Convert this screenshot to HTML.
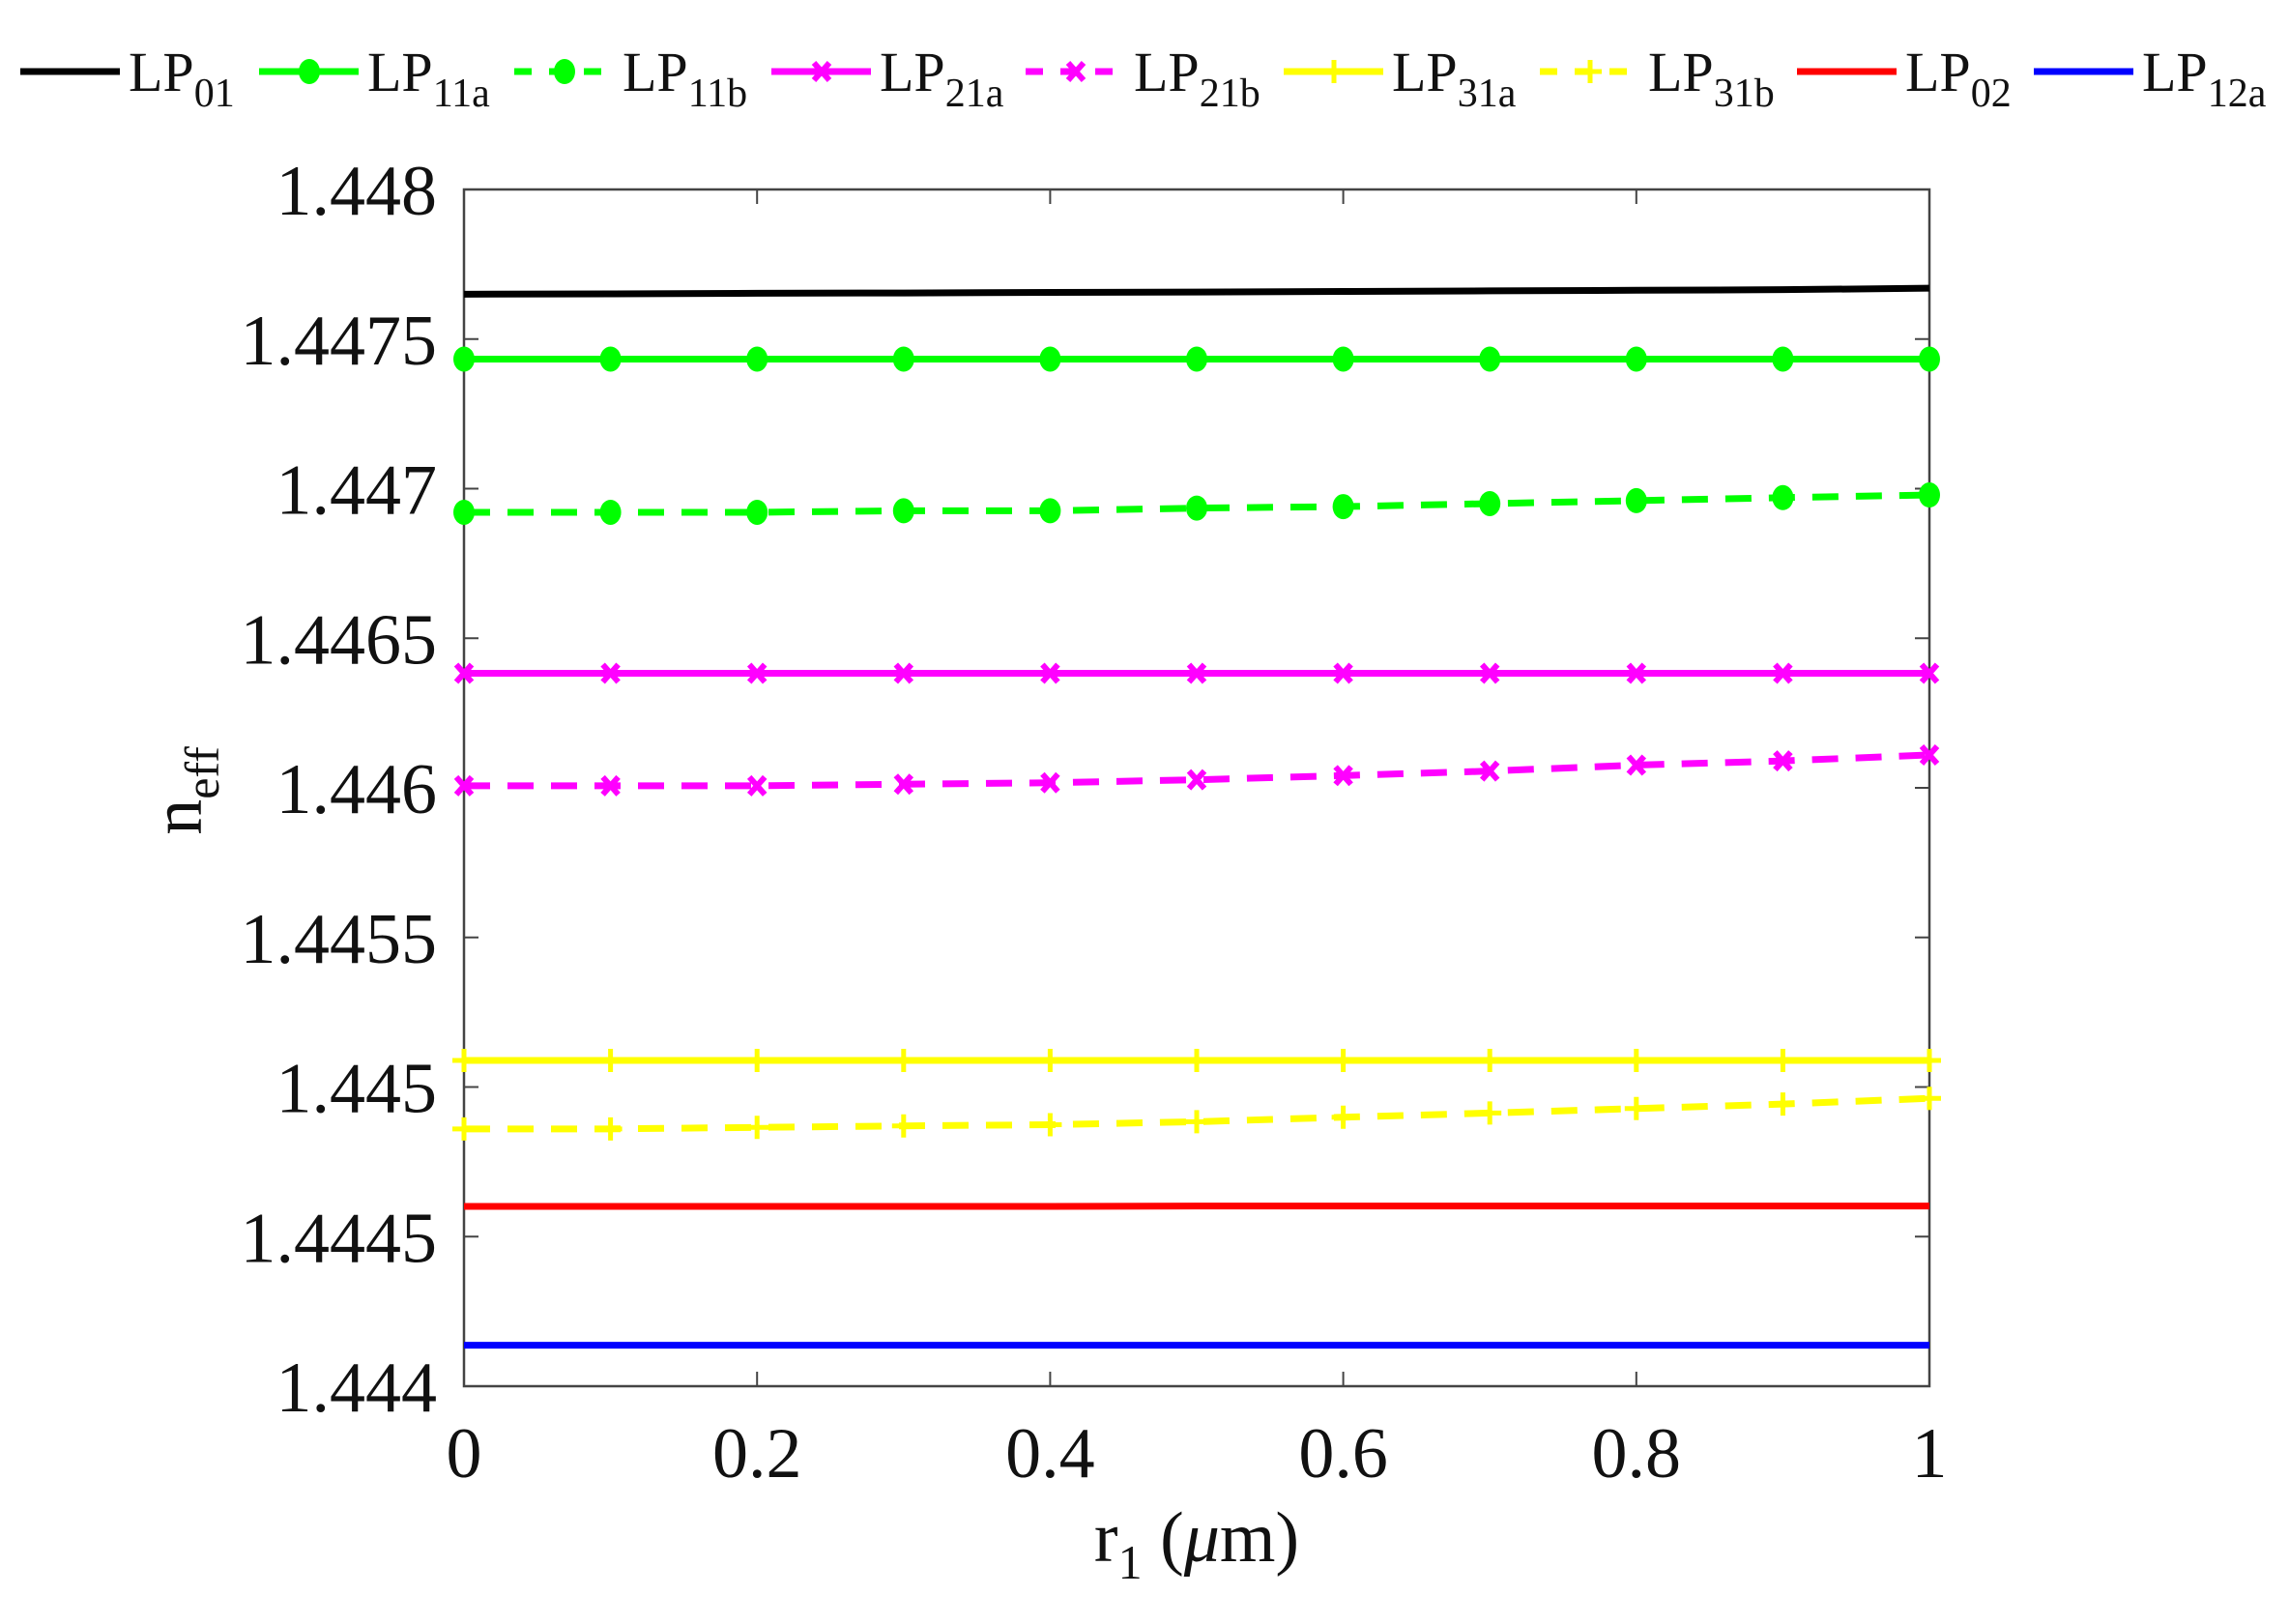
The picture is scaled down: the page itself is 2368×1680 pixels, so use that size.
<!DOCTYPE html>
<html><head><meta charset="utf-8"><style>
html,body{margin:0;padding:0;background:#fff;}
svg{display:block;font-family:"Liberation Serif",serif;}
</style></head><body>
<svg id="chart" width="2368" height="1680" viewBox="0 0 2368 1680" xmlns="http://www.w3.org/2000/svg">
<g id="plot"></g>
<g id="legend"></g>
</svg>
<script>
const xValues=[0,0.1,0.2,0.3,0.4,0.5,0.6,0.7,0.8,0.9,1];
const lp01=[1.44765,1.447651,1.447653,1.447654,1.447656,1.447657,1.447659,1.447661,1.447663,1.447665,1.44767];
const lp11a=[1.447433,1.447433,1.447433,1.447433,1.447433,1.447433,1.447433,1.447433,1.447433,1.447433,1.447433];
const lp11b=[1.446921,1.446921,1.446921,1.446926,1.446926,1.446935,1.44694,1.44695,1.44696,1.44697,1.446979];
const lp21a=[1.446383,1.446383,1.446383,1.446383,1.446383,1.446383,1.446383,1.446383,1.446383,1.446383,1.446383];
const lp21b=[1.446007,1.446007,1.446007,1.446012,1.446017,1.446027,1.446041,1.446056,1.446076,1.44609,1.44611];
const lp31a=[1.445089,1.445089,1.445089,1.445089,1.445089,1.445089,1.445089,1.445089,1.445089,1.445089,1.445089];
const lp31b=[1.44486,1.44486,1.444865,1.44487,1.444874,1.444884,1.444899,1.444913,1.444928,1.444943,1.444962];
const lp02=[1.444601,1.444601,1.444601,1.444601,1.444601,1.444602,1.444602,1.444602,1.444602,1.444602,1.444602];
const lp12a=[1.444137,1.444137,1.444137,1.444137,1.444137,1.444137,1.444137,1.444137,1.444137,1.444137,1.444137];
const xTicks=[0,0.2,0.4,0.6,0.8,1];
const xTickLabels=["0","0.2","0.4","0.6","0.8","1"];
const yTicks=[1.444,1.4445,1.445,1.4455,1.446,1.4465,1.447,1.4475,1.448];
const yTickLabels=["1.444","1.4445","1.445","1.4455","1.446","1.4465","1.447","1.4475","1.448"];

const L=480,R=1996,T=196,B=1434;
const xMin=0,xMax=1,yMin=1.444,yMax=1.448;
function sx(v){return L+(v-xMin)/(xMax-xMin)*(R-L);}
function sy(v){return B-(v-yMin)/(yMax-yMin)*(B-T);}
const NS="http://www.w3.org/2000/svg";
function mk(tag,attrs,parent){const e=document.createElementNS(NS,tag);for(const k in attrs)e.setAttribute(k,attrs[k]);parent.appendChild(e);return e;}
const plot=document.getElementById('plot');
const legend=document.getElementById('legend');

const series=[
 {name:"01",data:lp01,color:"#000000",dash:false,marker:null,key:"lp01"},
 {name:"11a",data:lp11a,color:"#00ff00",dash:false,marker:"circle",key:"lp11a"},
 {name:"11b",data:lp11b,color:"#00ff00",dash:true,marker:"circle",key:"lp11b"},
 {name:"21a",data:lp21a,color:"#ff00ff",dash:false,marker:"x",key:"lp21a"},
 {name:"21b",data:lp21b,color:"#ff00ff",dash:true,marker:"x",key:"lp21b"},
 {name:"31a",data:lp31a,color:"#ffff00",dash:false,marker:"plus",key:"lp31a"},
 {name:"31b",data:lp31b,color:"#ffff00",dash:true,marker:"plus",key:"lp31b"},
 {name:"02",data:lp02,color:"#ff0000",dash:false,marker:null,key:"lp02"},
 {name:"12a",data:lp12a,color:"#0000ff",dash:false,marker:null,key:"lp12a"}
];

function drawMarker(g,type,x,y,color){
 let m;
 if(type==="circle"){m=mk('ellipse',{cx:x,cy:y,rx:11,ry:13,fill:color},g);}
 else if(type==="x"){m=mk('path',{d:`M${x-8},${y-9}L${x+8},${y+9}M${x-8},${y+9}L${x+8},${y-9}`,stroke:color,'stroke-width':6,fill:'none'},g);}
 else if(type==="plus"){m=mk('path',{d:`M${x-12},${y}L${x+12},${y}M${x},${y-12}L${x},${y+12}`,stroke:color,'stroke-width':5,fill:'none'},g);}
 return m;
}

const axes=mk('g',{},plot);


const frame=mk('rect',{x:L,y:T,width:R-L,height:B-T,fill:'none',stroke:'#444',"stroke-width":2.5},axes);


xTicks.forEach((t,i)=>{
 const x=sx(t);
 mk('line',{x1:x,y1:B,x2:x,y2:B-15,stroke:'#444','stroke-width':2},axes);
 mk('line',{x1:x,y1:T,x2:x,y2:T+15,stroke:'#444','stroke-width':2},axes);
 const tx=mk('text',{x:x,y:1528,'text-anchor':'middle','font-size':74,fill:'#111'},axes);
 tx.textContent=xTickLabels[i];
 
 
});
yTicks.forEach((t,i)=>{
 const y=sy(t);
 mk('line',{x1:L,y1:y,x2:L+15,y2:y,stroke:'#444','stroke-width':2},axes);
 mk('line',{x1:R,y1:y,x2:R-15,y2:y,stroke:'#444','stroke-width':2},axes);
 const tx=mk('text',{x:452,y:y+26,'text-anchor':'end','font-size':74,fill:'#111'},axes);
 tx.textContent=yTickLabels[i];
 
 
});
const xl=mk('text',{x:1238,y:1615,'text-anchor':'middle','font-size':74,fill:'#111'},plot);
xl.innerHTML='r<tspan font-size="50" dy="18">1</tspan><tspan dy="-18"> (</tspan><tspan font-style="italic">μ</tspan>m)';


const yl=mk('text',{x:0,y:0,'text-anchor':'middle','font-size':74,fill:'#111',transform:'translate(208,818) rotate(-90)'},plot);
yl.innerHTML='n<tspan font-size="50" dy="18">eff</tspan>';



series.forEach(s=>{
 const g=mk('g',{},plot);
 
 
 const pts=s.data.map((v,i)=>sx(xValues[i])+','+sy(v)).join(' ');
 const pl=mk('polyline',{points:pts,fill:'none',stroke:s.color,'stroke-width':7},g);
 if(s.dash)pl.setAttribute('stroke-dasharray','27 18');
 
 
 if(s.marker){
  s.data.forEach((v,i)=>{
   const m=drawMarker(g,s.marker,sx(xValues[i]),sy(v),s.color);
   
   
  });
 }
});

const legX=[21,268,532,798,1061,1328,1593,1859,2104];
series.forEach((s,i)=>{
 const g=mk('g',{},legend);
 
 
 const x0=legX[i],y0=74;
 const ln=mk('line',{x1:x0,y1:y0,x2:x0+103,y2:y0,stroke:s.color,'stroke-width':7},g);
 if(s.dash)ln.setAttribute('stroke-dasharray','18 18');
 if(s.marker)drawMarker(g,s.marker,x0+52,y0,s.color);
 const t=mk('text',{x:x0+112,y:94,'font-size':58,fill:'#111'},g);
 t.innerHTML='LP<tspan font-size="42" dy="16">'+s.name+'</tspan>';
});
</script>
</body></html>
